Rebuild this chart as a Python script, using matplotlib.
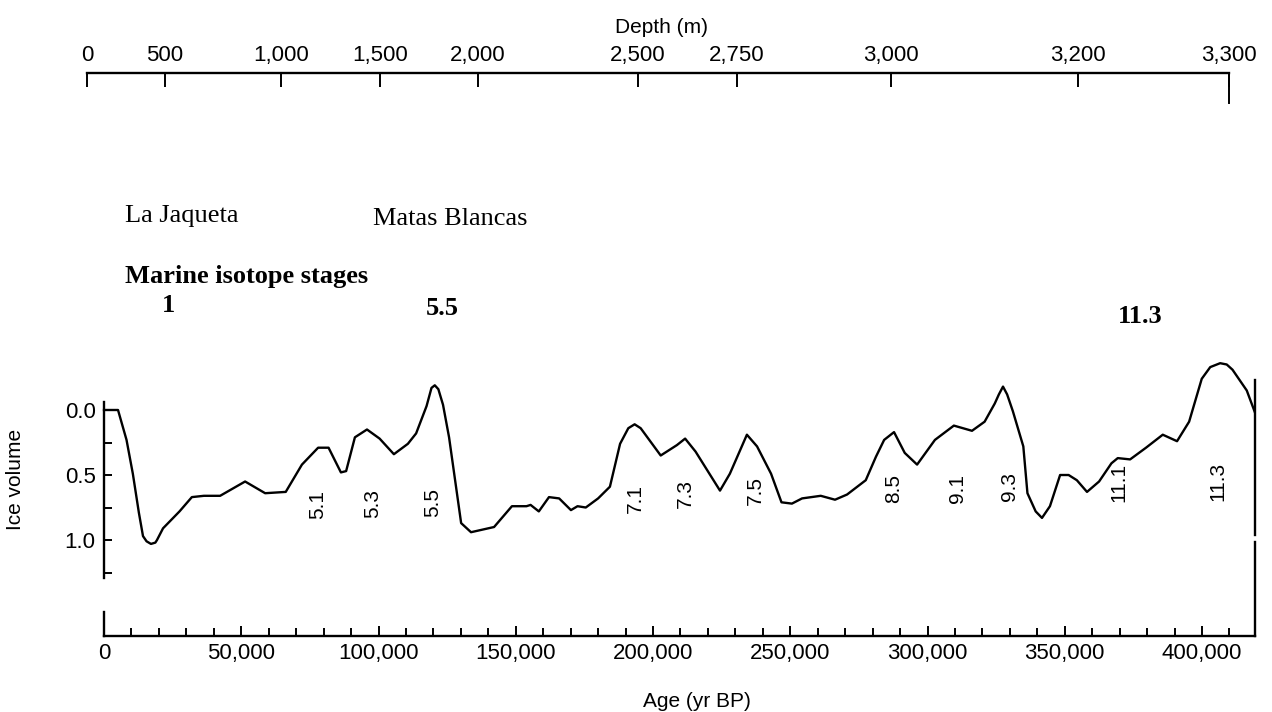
"""Vostok-style ice volume curve against age, with depth scale on top."""

import matplotlib
matplotlib.use("Agg")
import matplotlib.pyplot as plt
from matplotlib.ticker import MultipleLocator

plt.rcParams["font.family"] = ["Liberation Sans", "DejaVu Sans"]

# ice volume curve (age in yr BP, relative ice volume)
age = [0, 5100, 8200, 10500, 12700, 14200, 15500, 17100, 18700, 19300, 21500, 27500,
       32000, 36400, 42300, 51400, 58700, 66200, 72100, 78000, 81800, 86300,
       88200, 91400, 95800, 100400, 105600, 110700, 113700, 117500, 119300, 120500,
       121800, 123500,
       125700, 130100, 133700, 142100, 148600, 153900, 155400, 158400, 162100, 165800,
       170100, 172500, 175500, 180000, 184300, 188000, 191000, 193300, 195500,
       202800, 208700, 211700,
       215500, 224400, 228000, 234200, 237900, 243000, 246800, 250600, 254300, 261100,
       266300, 270700, 277500, 281200, 284200, 287800, 291700, 296200, 302700, 309600,
       316200, 320800, 324500, 326000, 327500, 329000, 331100, 334900, 336400, 339400,
       341700, 344600,
       348300, 351400, 354400, 358100, 362500, 367000, 369300, 373800, 379600, 385700,
       390900, 395300, 399900, 403000, 406600, 409000, 411100, 416300, 419300]
ice = [0.00, 0.00, 0.23, 0.49, 0.79, 0.97, 1.01, 1.03, 1.02, 1.00, 0.91, 0.78,
       0.67, 0.66, 0.66, 0.55, 0.64, 0.63, 0.42, 0.29, 0.29, 0.48,
       0.47, 0.21, 0.15, 0.22, 0.34, 0.26, 0.18, -0.03, -0.17, -0.19,
       -0.16, -0.04,
       0.21, 0.87, 0.94, 0.90, 0.74, 0.74, 0.73, 0.78, 0.67, 0.68,
       0.77, 0.74, 0.75, 0.68, 0.59, 0.26, 0.14, 0.11, 0.14,
       0.35, 0.27, 0.22,
       0.32, 0.62, 0.49, 0.19, 0.28, 0.49, 0.71, 0.72, 0.68, 0.66,
       0.69, 0.65, 0.54, 0.36, 0.23, 0.17, 0.33, 0.42, 0.23, 0.12,
       0.16, 0.09, -0.05, -0.12, -0.18, -0.12, 0.01, 0.28, 0.64, 0.78,
       0.83, 0.74,
       0.50, 0.50, 0.54, 0.63, 0.55, 0.41, 0.37, 0.38, 0.29, 0.19,
       0.24, 0.09, -0.24, -0.33, -0.36, -0.35, -0.31, -0.15, 0.02]

# marine isotope substage labels along the curve
stage_names = ["5.1", "5.3", "5.5", "7.1", "7.3", "7.5", "8.5", "9.1", "9.3", "11.1", "11.3"]
stage_age = [78000, 98000, 119900, 193400, 211700, 237200, 287800, 311100, 329700, 369800, 405800]
stage_ice = [0.73, 0.72, 0.71, 0.68, 0.64, 0.62, 0.60, 0.60, 0.59, 0.56, 0.55]

# depth scale (m) and the ages they fall at
depth_labels = ["0", "500", "1,000", "1,500", "2,000", "2,500", "2,750", "3,000", "3,200", "3,300"]
depth_age = [-6200, 22200, 64500, 100500, 136200, 194500, 230600, 286700, 354800, 409800]

age_ticks = [0, 50000, 100000, 150000, 200000, 250000, 300000, 350000, 400000]
age_tick_labels = ["0", "50,000", "100,000", "150,000", "200,000",
                   "250,000", "300,000", "350,000", "400,000"]
ice_ticks = [0.0, 0.25, 0.5, 0.75, 1.0, 1.25]
ice_tick_labels = ["0.0", "", "0.5", "", "1.0", ""]

W, H = 1272, 712
XLIM = (-7000, 419300)
SERIF = ["Liberation Serif", "DejaVu Serif"]


def box(left, top, right, bottom):
    return [left / W, 1 - bottom / H, (right - left) / W, (bottom - top) / H]


fig = plt.figure(figsize=(W / 100, H / 100), dpi=100)
fig.patch.set_facecolor("white")

# main ice volume panel
ax = fig.add_axes(box(84.8, 355, 1255, 585))
ax.patch.set_alpha(0)
ax.plot(age, ice, color="black", lw=1.7, solid_joinstyle="round")
ax.set_xlim(*XLIM)
ax.set_ylim(1.346, -0.423)
for s in ["top", "bottom"]:
    ax.spines[s].set_visible(False)
ax.spines["left"].set_position(("data", 0))
ax.spines["left"].set_bounds(-0.06, 1.29)
ax.spines["right"].set_bounds(-0.23, 0.96)
for s in ["left", "right"]:
    ax.spines[s].set_linewidth(1.7)
ax.set_xticks([])
ax.set_yticks(ice_ticks, ice_tick_labels)
ax.tick_params(axis="y", direction="in", length=6, width=1.4, pad=6, labelsize=16)
ax.set_ylabel("Ice volume", fontsize=15)
ax.yaxis.set_label_coords(-0.051, 0.457)

for name, a, v in zip(stage_names, stage_age, stage_ice):
    ax.text(a, v, name, rotation=90, ha="center", va="center", fontsize=15)

# bottom age axis strip
axb = fig.add_axes(box(84.8, 542, 1255, 636))
axb.patch.set_alpha(0)
axb.set_xlim(*XLIM)
axb.set_ylim(0, 1)
axb.spines["top"].set_visible(False)
axb.spines["left"].set_position(("data", 0))
axb.spines["left"].set_bounds(0, 0.26)
axb.spines["bottom"].set_bounds(0, XLIM[1])
for s in ["left", "right", "bottom"]:
    axb.spines[s].set_linewidth(1.7)
axb.set_yticks([])
axb.set_xticks(age_ticks, age_tick_labels)
axb.xaxis.set_minor_locator(MultipleLocator(10000))
axb.tick_params(axis="x", which="both", direction="in", width=1.4, labelsize=16)
axb.tick_params(axis="x", which="major", length=7, pad=5)
axb.tick_params(axis="x", which="minor", length=6)
axb.set_xlabel("Age (yr BP)", fontsize=15)
axb.xaxis.set_label_coords(0.523, -0.6)

# top depth axis
axt = fig.add_axes(box(84.8, 73, 1255, 100))
axt.patch.set_alpha(0)
axt.set_xlim(*XLIM)
for s in ["left", "right", "bottom"]:
    axt.spines[s].set_visible(False)
axt.spines["top"].set_bounds(depth_age[0], depth_age[-1])
axt.spines["top"].set_linewidth(1.7)
axt.set_yticks([])
axt.xaxis.tick_top()
axt.set_xticks(depth_age, depth_labels)
axt.tick_params(axis="x", direction="in", length=10, width=1.4, pad=5, labelsize=16)
axt.axvline(depth_age[-1], ymin=-0.1, ymax=1, color="black", lw=1.4, clip_on=False)
axt.xaxis.set_label_position("top")
axt.set_xlabel("Depth (m)", fontsize=15)
axt.xaxis.set_label_coords(0.4925, 1.0 + 40 / 27)

# site names and stage headings
fig.text(125 / W, 1 - 222 / H, "La Jaqueta", family=SERIF, fontsize=19, va="baseline")
fig.text(373 / W, 1 - 225 / H, "Matas Blancas", family=SERIF, fontsize=19, va="baseline")
fig.text(125 / W, 1 - 283 / H, "Marine isotope stages", family=SERIF, fontsize=19,
         fontweight="bold", va="baseline")
fig.text(168 / W, 1 - 312 / H, "1", family=SERIF, fontsize=19, fontweight="bold",
         ha="center", va="baseline")
fig.text(442 / W, 1 - 315 / H, "5.5", family=SERIF, fontsize=19, fontweight="bold",
         ha="center", va="baseline")
fig.text(1140 / W, 1 - 323 / H, "11.3", family=SERIF, fontsize=19, fontweight="bold",
         ha="center", va="baseline")

fig.savefig("out.png", dpi=100)
plt.close(fig)
